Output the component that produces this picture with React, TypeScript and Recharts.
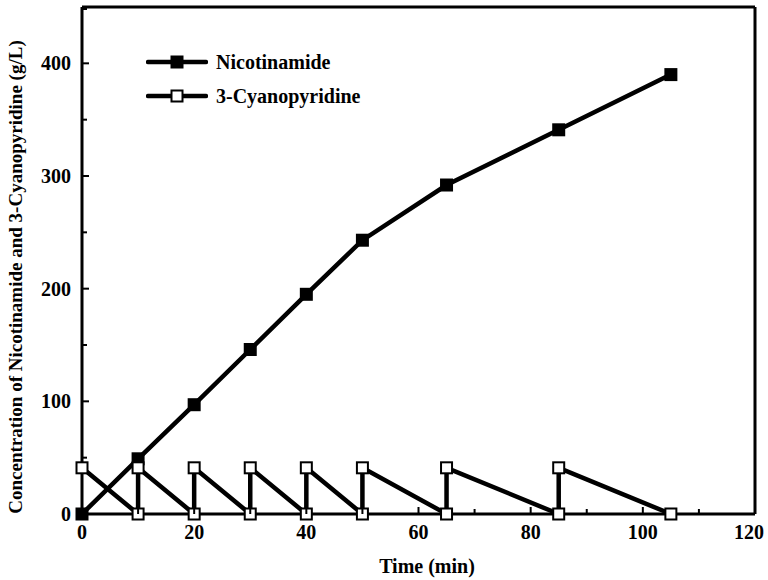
import { LineChart, Line, XAxis, YAxis, ReferenceLine, Legend } from "recharts";

const timeTicks = [0, 10, 20, 30, 40, 50, 60, 70, 80, 90, 100, 110, 120];
const concTicks = [0, 50, 100, 150, 200, 250, 300, 350, 400, 450];
const seriesNames = ["Nicotinamide", "3-Cyanopyridine"];

const nicotinamideTime = [0, 10, 20, 30, 40, 50, 65, 85, 105];
const nicotinamideConc = [0, 49, 97, 146, 195, 243, 292, 341, 390];

const cyanoTime = [0, 10, 10, 20, 20, 30, 30, 40, 40, 50, 50, 65, 65, 85, 85, 105];
const cyanoConc = [41, 0, 41, 0, 41, 0, 41, 0, 41, 0, 41, 0, 41, 0, 41, 0];

const nicotinamideData = nicotinamideTime.map((t, i) => ({ time: t, value: nicotinamideConc[i] }));
const cyanoData = cyanoTime.map((t, i) => ({ time: t, value: cyanoConc[i] }));
const dotFills: Record<string, string> = { Nicotinamide: "#000", "3-Cyanopyridine": "#fff" };

const FONT = "'Liberation Serif', 'Times New Roman', serif";

// eslint-disable-next-line @typescript-eslint/no-explicit-any
function SquareDot({ cx, cy, fill }: any) {
    if (cx == null || cy == null) return null;
    return <rect x={cx - 5.5} y={cy - 5.5} width={11} height={11} fill={fill} stroke="#000" strokeWidth={2} />;
}

// eslint-disable-next-line @typescript-eslint/no-explicit-any
function TimeTick({ x, y, payload }: any) {
    const major = payload.value % 20 === 0;
    // the last label sits a little left of its tick in the original
    const dx = payload.value === 120 ? -6 : 0;
    return (
        <g>
            <line x1={x} x2={x} y1={y} y2={y - (major ? 7 : 5)} stroke="#000" strokeWidth={2} />
            {major && (
                <text x={x + dx} y={y + 25} textAnchor="middle" fontFamily={FONT} fontWeight="bold" fontSize={20} fill="#000">
                    {payload.value}
                </text>
            )}
        </g>
    );
}

// eslint-disable-next-line @typescript-eslint/no-explicit-any
function ConcTick({ x, y, payload }: any) {
    const major = payload.value % 100 === 0;
    return (
        <g>
            <line x1={x} x2={x + (major ? 7 : 5)} y1={y} y2={y} stroke="#000" strokeWidth={2} />
            {major && (
                <text x={x - 11} y={y + 7} textAnchor="end" fontFamily={FONT} fontWeight="bold" fontSize={20} fill="#000">
                    {payload.value}
                </text>
            )}
        </g>
    );
}

function LegendBox() {
    return (
        <div style={{ fontFamily: FONT, fontWeight: "bold", fontSize: 20, color: "#000" }}>
            {seriesNames.map((name) => (
                <div key={name} style={{ display: "flex", alignItems: "center", height: 34 }}>
                    <svg width={62} height={14} style={{ marginRight: 8 }}>
                        <line x1={2} x2={60} y1={7} y2={7} stroke="#000" strokeWidth={4.5} strokeLinecap="round" />
                        <rect x={25.5} y={1.5} width={11} height={11} fill={dotFills[name]} stroke="#000" strokeWidth={2} />
                    </svg>
                    <span>{name}</span>
                </div>
            ))}
        </div>
    );
}

export default function App() {
    return (
        <div style={{ position: "absolute", left: 0, top: 0, width: 768, height: 580, background: "#fff" }}>
            <LineChart width={768} height={580} margin={{ top: 7, right: 13, bottom: 0, left: 0 }}>
                <XAxis
                    dataKey="time"
                    type="number"
                    domain={[0, 120]}
                    ticks={timeTicks}
                    allowDuplicatedCategory={false}
                    height={66}
                    tickSize={0}
                    tickMargin={0}
                    tick={<TimeTick />}
                    axisLine={{ stroke: "#000", strokeWidth: 3 }}
                    label={{
                        content: () => (
                            <text x={427} y={573} textAnchor="middle" fontFamily={FONT} fontWeight="bold" fontSize={20} fill="#000">
                                Time (min)
                            </text>
                        ),
                    }}
                />
                <YAxis
                    type="number"
                    domain={[0, 450]}
                    ticks={concTicks}
                    width={82}
                    tickSize={0}
                    tickMargin={0}
                    tick={<ConcTick />}
                    axisLine={{ stroke: "#000", strokeWidth: 3 }}
                    label={{
                        content: () => (
                            <text
                                x={0}
                                y={0}
                                transform="translate(22 277) rotate(-90)"
                                textAnchor="middle"
                                fontFamily={FONT}
                                fontWeight="bold"
                                fontSize={19}
                                fill="#000"
                            >
                                Concentration of Nicotinamide and 3-Cyanopyridine (g/L)
                            </text>
                        ),
                    }}
                />
                <ReferenceLine y={450} stroke="#000" strokeWidth={3} />
                <ReferenceLine x={120} stroke="#000" strokeWidth={3} />
                <Legend
                    layout="vertical"
                    verticalAlign="middle"
                    align="center"
                    wrapperStyle={{ top: 45, left: 146, width: 260, height: 68 }}
                    content={<LegendBox />}
                />
                <Line
                    data={nicotinamideData}
                    dataKey="value"
                    name="Nicotinamide"
                    stroke="#000"
                    strokeWidth={4.5}
                    dot={<SquareDot fill="#000" />}
                    activeDot={false}
                    isAnimationActive={false}
                />
                <Line
                    data={cyanoData}
                    dataKey="value"
                    name="3-Cyanopyridine"
                    stroke="#000"
                    strokeWidth={4.5}
                    dot={<SquareDot fill="#fff" />}
                    activeDot={false}
                    isAnimationActive={false}
                />
            </LineChart>
        </div>
    );
}
